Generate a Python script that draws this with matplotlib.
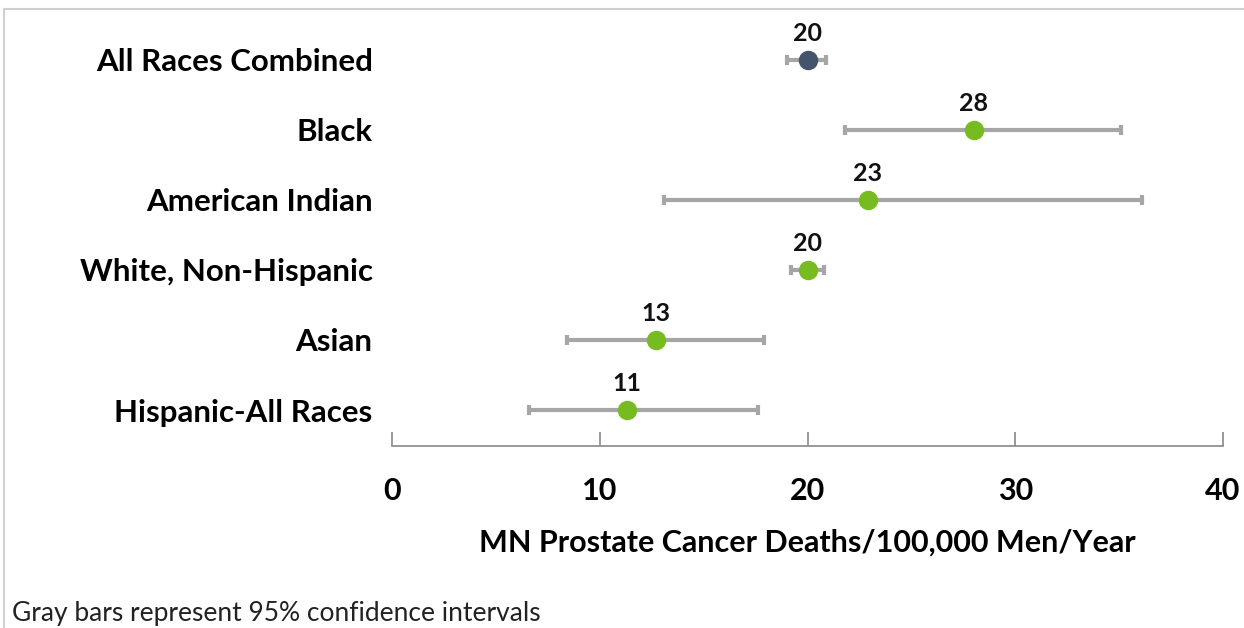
import matplotlib.pyplot as plt
from matplotlib.lines import Line2D

groups = ['All Races Combined', 'Black', 'American Indian', 'White, Non-Hispanic',
          'Asian', 'Hispanic-All Races']
rates = [20.0, 28.0, 22.9, 20.0, 12.7, 11.3]
ci_low = [19.0, 21.8, 13.1, 19.2, 8.4, 6.6]
ci_high = [20.9, 35.1, 36.1, 20.8, 17.9, 17.6]
labels = ['20', '28', '23', '20', '13', '11']
colors = ['#44546A', '#76BC21', '#76BC21', '#76BC21', '#76BC21', '#76BC21']

plt.rcParams['font.family'] = ['Lato', 'DejaVu Sans']

fig = plt.figure(figsize=(12.44, 6.28), dpi=100)
ax = fig.add_axes([392 / 1244, 1 - 446 / 628, (1223 - 392) / 1244, 426 / 628])

ypos = [len(groups) - 1 - i for i in range(len(groups))]
for y, r, lo, hi, c, lab in zip(ypos, rates, ci_low, ci_high, colors, labels):
    ax.errorbar(r, y, xerr=[[r - lo], [hi - r]], fmt='none', ecolor='#A6A6A6',
                elinewidth=3, capsize=3.5, capthick=3, zorder=1)
    ax.plot(r, y, 'o', color=c, markersize=13, zorder=2)
    ax.text(r, y + 0.22, lab, ha='center', va='bottom', fontsize=18,
            fontweight='bold', color='#111111')

ax.set_xlim(0, 40)
ax.set_ylim(-0.514, 5.57)
ax.set_xticks([0, 10, 20, 30, 40])
ax.set_yticks(ypos)
ax.set_yticklabels(groups, fontsize=22.5, fontweight='bold')
for lbl in ax.get_xticklabels():
    lbl.set_fontsize(22)
    lbl.set_fontweight('bold')
ax.tick_params(axis='x', direction='in', length=10, width=1.2, color='#888888', pad=22)
ax.tick_params(axis='y', length=0, pad=14)
for s in ['top', 'right', 'left']:
    ax.spines[s].set_visible(False)
ax.spines['bottom'].set_color('#888888')
ax.spines['bottom'].set_linewidth(1.2)
ax.set_xlabel('MN Prostate Cancer Deaths/100,000 Men/Year', fontsize=22,
              fontweight='bold', labelpad=17)

fig.text(12 / 1244, 1 - 613 / 628, 'Gray bars represent 95% confidence intervals',
         fontsize=19, va='center', ha='left', color='#222222')

# light frame around the chart area
fig.add_artist(Line2D([4 / 1244, 4 / 1244], [0, 1 - 9 / 628], transform=fig.transFigure,
                      color='#D0D0D0', lw=1.5))
fig.add_artist(Line2D([4 / 1244, 1], [1 - 9 / 628, 1 - 9 / 628], transform=fig.transFigure,
                      color='#D0D0D0', lw=1.5))

fig.savefig('out.png', dpi=100)
